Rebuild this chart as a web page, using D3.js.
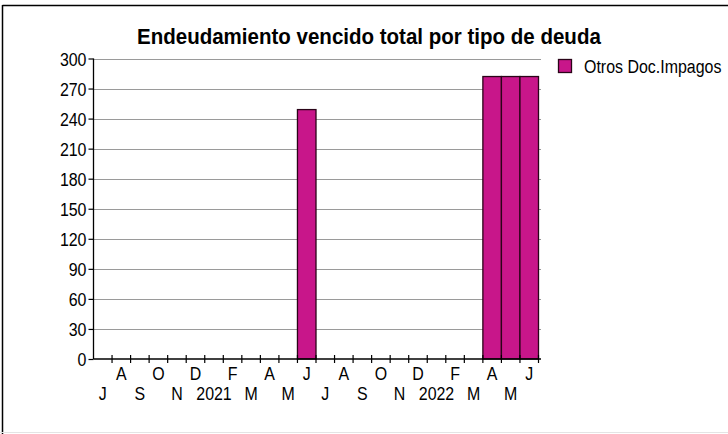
<!DOCTYPE html>
<html>
<head>
<meta charset="utf-8">
<script src="https://cdn.jsdelivr.net/npm/d3@7"></script>
<style>
    body { margin: 0; background: #fff; }
    svg text { font-family: "Liberation Sans", Arial, sans-serif; fill: #000; }
</style>
</head>
<body>
<div id="chart"></div>
<script>
// months jul 2020 .. jun 2022
var months = ['2020-07', '2020-08', '2020-09', '2020-10', '2020-11', '2020-12',
    '2021-01', '2021-02', '2021-03', '2021-04', '2021-05', '2021-06',
    '2021-07', '2021-08', '2021-09', '2021-10', '2021-11', '2021-12',
    '2022-01', '2022-02', '2022-03', '2022-04', '2022-05', '2022-06'];
var monthLabels = ['J', 'A', 'S', 'O', 'N', 'D', '2021', 'F', 'M', 'A', 'M', 'J',
    'J', 'A', 'S', 'O', 'N', 'D', '2022', 'F', 'M', 'A', 'M', 'J'];
var otrosDocImpagos = [0, 0, 0, 0, 0, 0, 0, 0, 0, 0, 0, 249,
    0, 0, 0, 0, 0, 0, 0, 0, 0, 282, 282, 282];
var yTicks = [0, 30, 60, 90, 120, 150, 180, 210, 240, 270, 300];
var seriesName = 'Otros Doc.Impagos';
var chartTitle = 'Endeudamiento vencido total por tipo de deuda';

var W = 728, H = 434;
var barColor = '#c8168a';
var narrow = 0.84; // the original font is a condensed one

var svg = d3.select('#chart').append('svg')
    .attr('width', W)
    .attr('height', H);

// frame
svg.append('rect').attr('x', 0).attr('y', 0).attr('width', W).attr('height', H).attr('fill', '#fff');
svg.append('line').attr('x1', 2.5).attr('x2', W).attr('y1', 5.5).attr('y2', 5.5).attr('stroke', '#000').attr('stroke-width', 1.5);
svg.append('line').attr('x1', 2.5).attr('x2', 2.5).attr('y1', 5).attr('y2', H).attr('stroke', '#000').attr('stroke-width', 1.5);
svg.append('line').attr('x1', 0).attr('x2', W).attr('y1', 432.5).attr('y2', 432.5).attr('stroke', '#e4e4e4');

var x = d3.scaleBand()
    .domain(months)
    .range([93.5, 538.5])
    .padding(0);

var y = d3.scaleLinear()
    .domain([0, 300])
    .range([359, 58.5]);

// squeeze text horizontally around its own x
function condense(sel, k) {
    sel.each(function() {
        var t = d3.select(this);
        var tx = +t.attr('x') || 0;
        t.attr('x', tx / k).attr('transform', 'scale(' + k + ',1)');
    });
}

// gridlines
svg.append('g').selectAll('line')
    .data(yTicks.filter(function(d) { return d > 0; }))
    .enter()
    .append('line')
    .attr('x1', 93.5)
    .attr('x2', 541)
    .attr('y1', function(d) { return Math.round(y(d)) + 0.5; })
    .attr('y2', function(d) { return Math.round(y(d)) + 0.5; })
    .attr('stroke', '#9a9a9a')
    .attr('stroke-width', 1.2);

// bars
svg.append('g').selectAll('rect')
    .data(otrosDocImpagos.map(function(v, i) { return {m: months[i], v: v}; }).filter(function(d) { return d.v > 0; }))
    .enter()
    .append('rect')
    .attr('x', function(d) { return x(d.m); })
    .attr('y', function(d) { return y(d.v); })
    .attr('width', x.bandwidth())
    .attr('height', function(d) { return y(0) - y(d.v); })
    .attr('fill', barColor)
    .attr('stroke', '#2a0418')
    .attr('stroke-width', 1.3);

// y axis
var yAxis = d3.axisLeft(y)
    .tickValues(yTicks)
    .tickSize(5)
    .tickPadding(2);
var gy = svg.append('g')
    .attr('transform', 'translate(93.5,0)')
    .call(yAxis);
gy.select('.domain').attr('stroke', '#000').attr('stroke-width', 1.3).attr('d', 'M0,' + y(300) + 'V' + y(0));
gy.selectAll('.tick line').attr('stroke', '#000').attr('stroke-width', 1.2);
gy.selectAll('.tick text')
    .attr('font-size', 19)
    .attr('font-family', null)
    .attr('dy', '0.36em')
    .call(condense, narrow);

// x axis line + ticks at band edges
var xg = svg.append('g');
xg.append('line')
    .attr('x1', 93.5).attr('x2', 541)
    .attr('y1', y(0)).attr('y2', y(0))
    .attr('stroke', '#000').attr('stroke-width', 1.5);
xg.selectAll('line.tk')
    .data(months.slice(1).concat(['end']))
    .enter()
    .append('line')
    .attr('class', 'tk')
    .attr('x1', function(d) { return d == 'end' ? x.range()[1] : x(d); })
    .attr('x2', function(d) { return d == 'end' ? x.range()[1] : x(d); })
    .attr('y1', y(0) - 4)
    .attr('y2', y(0) + 4)
    .attr('stroke', '#000')
    .attr('stroke-width', 1.2);

xg.selectAll('text')
    .data(months)
    .enter()
    .append('text')
    .attr('x', function(d) { return x(d) + x.bandwidth() / 2; })
    .attr('y', function(d, i) { return i % 2 == 0 ? 400 : 380; })
    .attr('text-anchor', 'middle')
    .attr('font-size', 19)
    .text(function(d, i) { return monthLabels[i]; })
    .call(condense, narrow);

// title, squeezed to the width it has in the original
var title = svg.append('text')
    .attr('x', 137)
    .attr('y', 44)
    .attr('font-size', 22)
    .attr('font-weight', 'bold')
    .text(chartTitle);
var titleLen = title.node().getComputedTextLength();
title.call(condense, Math.min(1, 464 / titleLen));

// legend
var legend = svg.append('g').attr('transform', 'translate(558,59)');
legend.append('rect')
    .attr('x', 0.5).attr('y', 0.5)
    .attr('width', 13).attr('height', 13)
    .attr('fill', barColor)
    .attr('stroke', '#2a0418')
    .attr('stroke-width', 1.3);
legend.append('text')
    .attr('x', 26)
    .attr('y', 14)
    .attr('font-size', 19)
    .text(seriesName)
    .call(condense, narrow);
</script>
</body>
</html>
